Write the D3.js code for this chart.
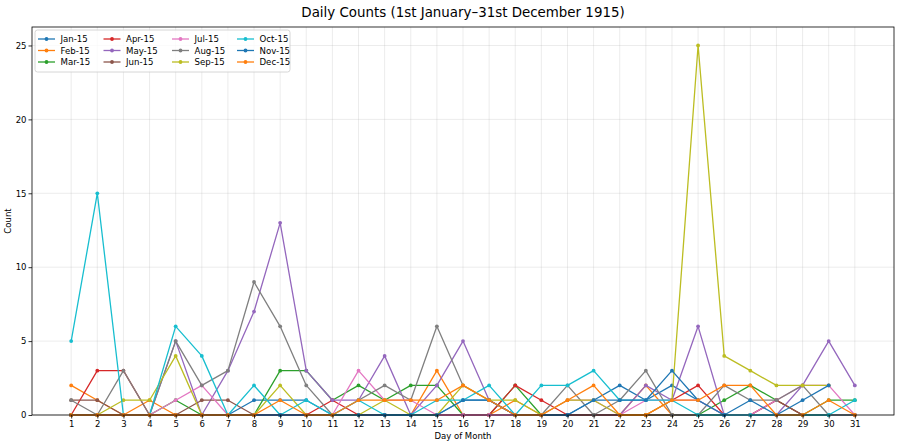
<!DOCTYPE html>
<html>
<head>
<meta charset="utf-8">
<script src="https://cdn.jsdelivr.net/npm/d3@7"></script>
<style>
  body { margin: 0; background: #fff; }
  svg { font-family: "DejaVu Sans", sans-serif; }
</style>
</head>
<body>
<div id="chart"></div>
<script>
// dias del mes y series (una por mes)
const days = d3.range(1, 32);
const months = ['Jan-15','Feb-15','Mar-15','Apr-15','May-15','Jun-15','Jul-15','Aug-15','Sep-15','Oct-15','Nov-15','Dec-15'];
const colors = ['#1f77b4','#ff7f0e','#2ca02c','#d62728','#9467bd','#8c564b','#e377c2','#7f7f7f','#bcbd22','#17becf','#1f77b4','#ff7f0e'];

const jan = [0,0,0,0,0,0,0,1,1,1,0,0,0,0,0,1,1,0,0,0,1,2,1,2,1,0,0,0,0,0,0];
const feb = [2,1,0,1,0,0,0,0,0,0,0,0,0,0,3,0,0,1,0,0,0,0,2,0,0,0,0,0];
const mar = [0,0,0,0,1,0,0,0,3,3,1,2,1,2,2,0,0,2,0,0,0,0,0,0,0,1,2,1,0,1,1];
const apr = [0,3,3,0,0,0,0,0,0,0,1,0,0,0,0,0,0,2,1,0,0,0,0,1,2,0,0,1,0,0];
const may = [0,0,0,0,5,0,3,7,13,3,1,1,4,0,2,5,1,0,0,0,0,0,2,1,6,0,0,0,2,5,2];
const jun = [1,1,0,0,0,1,1,0,0,0,0,0,0,0,0,0,0,0,0,0,0,0,0,0,0,0,0,1,0,0];
const jul = [0,0,0,0,1,2,0,0,0,0,0,3,1,1,0,0,0,0,0,1,1,0,1,1,1,0,0,1,2,2,0];
const aug = [1,0,3,0,5,2,3,9,6,2,0,1,2,1,6,2,1,0,0,2,0,1,3,0,0,2,1,1,2,0,0];
const sep = [0,0,1,1,4,0,0,0,2,0,0,0,1,0,0,2,1,1,0,1,1,0,0,1,25,4,3,2,2,2];
const oct = [5,15,0,0,6,4,0,2,0,1,0,1,0,0,1,1,2,0,2,2,3,1,1,1,0,0,0,0,0,0,1];
const nov = [0,0,0,0,0,0,0,0,0,0,0,0,0,0,0,1,1,0,0,0,1,1,1,3,1,0,1,0,1,2];
const dec = [0,0,0,0,0,0,0,0,1,0,0,1,1,1,1,2,1,0,0,1,2,0,0,1,1,2,2,0,0,1,0];

const series = [jan, feb, mar, apr, may, jun, jul, aug, sep, oct, nov, dec];
const yTicks = [0, 5, 10, 15, 20, 25];

const W = 900, H = 446;
const m = { left: 32, right: 894, top: 27, bottom: 415 };

const svg = d3.select('#chart').append('svg')
  .attr('width', W).attr('height', H);

const x = d3.scaleLinear().domain([-0.5, 32.5]).range([m.left, m.right]);
const y = d3.scaleLinear().domain([0, 26.25]).range([m.bottom, m.top]);

// grid
svg.append('g').selectAll('line').data(days).enter().append('line')
  .attr('x1', d => x(d)).attr('x2', d => x(d))
  .attr('y1', m.top).attr('y2', m.bottom)
  .attr('stroke', '#b0b0b0').attr('stroke-opacity', 0.3).attr('stroke-width', 0.8);
svg.append('g').selectAll('line').data(yTicks).enter().append('line')
  .attr('x1', m.left).attr('x2', m.right)
  .attr('y1', d => y(d)).attr('y2', d => y(d))
  .attr('stroke', '#b0b0b0').attr('stroke-opacity', 0.3).attr('stroke-width', 0.8);

// lineas
const line = d3.line().x((d, i) => x(i + 1)).y(d => y(d));
const plot = svg.append('g');
series.forEach((s, k) => {
  const g = plot.append('g');
  g.append('path').datum(s)
    .attr('d', line)
    .attr('fill', 'none')
    .attr('stroke', colors[k])
    .attr('stroke-width', 1.3)
    .attr('stroke-linejoin', 'round');
  g.selectAll('circle').data(s).enter().append('circle')
    .attr('cx', (d, i) => x(i + 1)).attr('cy', d => y(d))
    .attr('r', 1.9).attr('fill', colors[k]);
});

// ejes
const xAxis = svg.append('g').attr('transform', `translate(0,${m.bottom})`)
  .call(d3.axisBottom(x).tickValues(days).tickSize(3.5).tickPadding(2));
const yAxis = svg.append('g').attr('transform', `translate(${m.left},0)`)
  .call(d3.axisLeft(y).tickValues(yTicks).tickSize(3.5).tickPadding(2));
[xAxis, yAxis].forEach(a => {
  a.select('.domain').remove();
  a.selectAll('text').attr('font-size', 8.5).attr('fill', '#000')
    .attr('font-family', '"DejaVu Sans", sans-serif');
  a.selectAll('line').attr('stroke', '#000').attr('stroke-width', 0.8);
});

// marco
svg.append('rect')
  .attr('x', m.left).attr('y', m.top)
  .attr('width', m.right - m.left).attr('height', m.bottom - m.top)
  .attr('fill', 'none').attr('stroke', '#000').attr('stroke-width', 0.8);

// textos
svg.append('text').attr('x', (m.left + m.right) / 2).attr('y', 17)
  .attr('text-anchor', 'middle').attr('font-size', 13.4)
  .text('Daily Counts (1st January–31st December 1915)');
svg.append('text').attr('x', (m.left + m.right) / 2).attr('y', 439)
  .attr('text-anchor', 'middle').attr('font-size', 8.5)
  .text('Day of Month');
svg.append('text')
  .attr('transform', `translate(11,${(m.top + m.bottom) / 2}) rotate(-90)`)
  .attr('text-anchor', 'middle').attr('font-size', 8.5)
  .text('Count');

// leyenda
const leg = svg.append('g');
leg.append('rect')
  .attr('x', 35).attr('y', 30).attr('width', 255).attr('height', 42)
  .attr('rx', 2.5)
  .attr('fill', '#fff').attr('fill-opacity', 0.8)
  .attr('stroke', '#cccccc').attr('stroke-width', 0.8);
const colX = [38, 103.5, 172, 237];
const rowY = [39, 50.5, 62];
months.forEach((name, k) => {
  const cx = colX[Math.floor(k / 3)], cy = rowY[k % 3];
  leg.append('line').attr('x1', cx).attr('x2', cx + 17)
    .attr('y1', cy).attr('y2', cy)
    .attr('stroke', colors[k]).attr('stroke-width', 1.3);
  leg.append('circle').attr('cx', cx + 8.5).attr('cy', cy).attr('r', 1.9)
    .attr('fill', colors[k]);
  leg.append('text').attr('x', cx + 22.5).attr('y', cy + 3.2)
    .attr('font-size', 8.6).text(name);
});
</script>
</body>
</html>
